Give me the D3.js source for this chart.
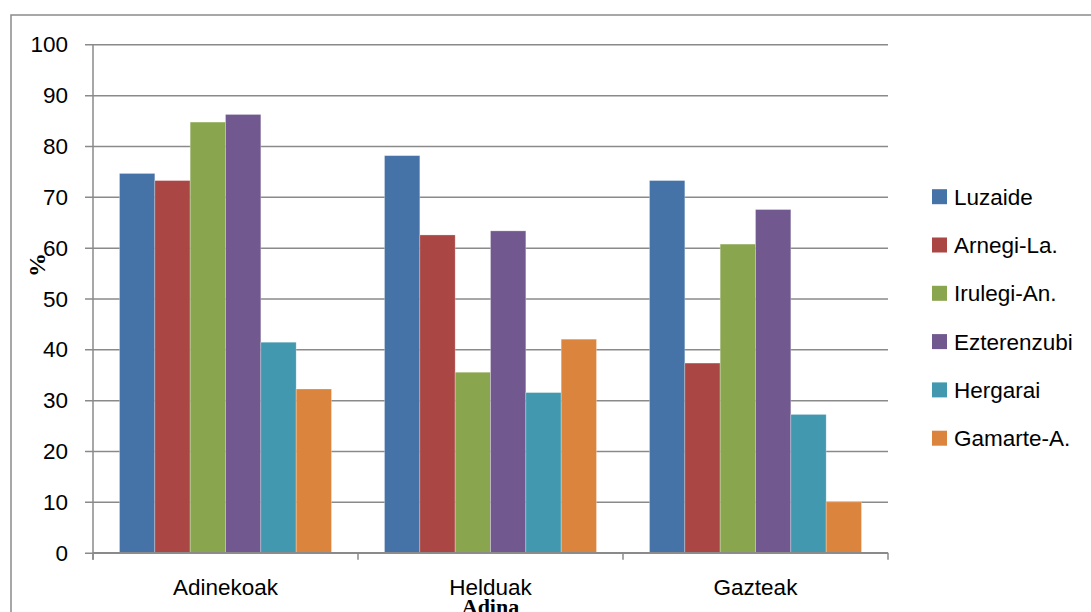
<!DOCTYPE html>
<html>
<head>
<meta charset="utf-8">
<script src="https://cdn.jsdelivr.net/npm/d3@7"></script>
<style>
  html, body { margin: 0; padding: 0; background: #fff; }
  svg { display: block; }
</style>
</head>
<body>
<svg id="chart" width="1091" height="612"></svg>
<script>
// Age groups along the x axis
const categories = ["Adinekoak", "Helduak", "Gazteak"];
// Localities (series)
const seriesNames = ["Luzaide", "Arnegi-La.", "Irulegi-An.", "Ezterenzubi", "Hergarai", "Gamarte-A."];
const seriesColors = ["#4572A7", "#AA4643", "#89A54E", "#71588F", "#4198AF", "#DB843D"];
// Percentages per series, one value per age group
const luzaide     = [74.6, 78.1, 73.2];
const arnegi      = [73.2, 62.5, 37.3];
const irulegi     = [84.7, 35.5, 60.7];
const ezterenzubi = [86.2, 63.3, 67.5];
const hergarai    = [41.4, 31.5, 27.2];
const gamarte     = [32.2, 42.0, 10.0];
const seriesValues = [luzaide, arnegi, irulegi, ezterenzubi, hergarai, gamarte];
const yTicks = [0, 10, 20, 30, 40, 50, 60, 70, 80, 90, 100];

const svg = d3.select("#chart");
const W = 1091, H = 612;
const plot = { left: 93, right: 888, top: 44.3, bottom: 552.7 };
const gridColor = "#8a8a8a";
const font = "'Liberation Sans', Arial, sans-serif";

// Outer chart frame (top and left edges visible)
svg.append("path")
  .attr("d", `M11,${H} L11,15 L${W},15`)
  .attr("fill", "none").attr("stroke", gridColor).attr("stroke-width", 1.5);

const y = d3.scaleLinear().domain([0, 100]).range([plot.bottom, plot.top]);
const x0 = d3.scaleBand().domain(categories).range([plot.left, plot.right]).paddingInner(0).paddingOuter(0);
// gap of 1.5 bar widths per group, split evenly on both sides
const groupPad = 0.75 / (6 + 1.5);
const x1 = d3.scaleBand().domain(d3.range(seriesNames.length))
  .range([0, x0.bandwidth()]).paddingInner(0).paddingOuter(0.75);

// Horizontal gridlines with outward ticks
const yAxis = d3.axisLeft(y).tickValues(yTicks).tickSize(-(plot.right - plot.left)).tickSizeOuter(0).tickFormat("");
const gy = svg.append("g").attr("transform", `translate(${plot.left},0)`).call(yAxis);
gy.select(".domain").remove();
gy.selectAll(".tick line").attr("stroke", gridColor).attr("stroke-width", 1.5).attr("x1", -8);

// Bars
const groups = svg.append("g").selectAll("g")
  .data(categories).join("g")
  .attr("transform", d => `translate(${x0(d)},0)`);
groups.selectAll("rect")
  .data((c, ci) => seriesValues.map((vals, si) => ({ si, v: vals[ci] })))
  .join("rect")
  .attr("x", d => x1(d.si))
  .attr("width", x1.bandwidth())
  .attr("y", d => y(d.v))
  .attr("height", d => y(0) - y(d.v))
  .attr("fill", d => seriesColors[d.si])
  .attr("stroke", "rgba(255,255,255,0.35)")
  .attr("stroke-width", 0.8);

// Y axis line
svg.append("line")
  .attr("x1", plot.left).attr("x2", plot.left)
  .attr("y1", plot.top).attr("y2", plot.bottom + 7)
  .attr("stroke", gridColor).attr("stroke-width", 1.5);

// X axis line and category boundary ticks
svg.append("line")
  .attr("x1", plot.left).attr("x2", plot.right)
  .attr("y1", plot.bottom).attr("y2", plot.bottom)
  .attr("stroke", gridColor).attr("stroke-width", 1.5);
const bounds = categories.map(c => x0(c)).concat([plot.right]);
svg.append("g").selectAll("line").data(bounds).join("line")
  .attr("x1", d => d).attr("x2", d => d)
  .attr("y1", plot.bottom).attr("y2", plot.bottom + 7)
  .attr("stroke", gridColor).attr("stroke-width", 1.5);

// Y tick labels
svg.append("g").selectAll("text").data(yTicks).join("text")
  .attr("x", 68).attr("y", d => y(d))
  .attr("dy", "0.36em")
  .attr("text-anchor", "end")
  .attr("font-family", font).attr("font-size", 22.5).attr("fill", "#000")
  .text(d => d);

// Category labels
svg.append("g").selectAll("text").data(categories).join("text")
  .attr("x", d => x0(d) + x0.bandwidth() / 2).attr("y", 595)
  .attr("text-anchor", "middle")
  .attr("font-family", font).attr("font-size", 22.5).attr("fill", "#000")
  .text(d => d);

// Axis titles
svg.append("text")
  .attr("transform", "translate(45,265) rotate(-90)")
  .attr("text-anchor", "middle")
  .attr("font-family", "'Liberation Serif', 'Times New Roman', serif")
  .attr("font-weight", "bold").attr("font-size", 24).attr("fill", "#000")
  .text("%");
svg.append("text")
  .attr("x", (plot.left + plot.right) / 2).attr("y", 614)
  .attr("text-anchor", "middle")
  .attr("font-family", "'Liberation Serif', 'Times New Roman', serif")
  .attr("font-weight", "bold").attr("font-size", 22).attr("fill", "#000")
  .text("Adina");

// Legend
const legend = svg.append("g").selectAll("g").data(seriesNames).join("g")
  .attr("transform", (d, i) => `translate(932,${196.7 + i * 48.3})`);
legend.append("rect")
  .attr("x", 0).attr("y", -7.5).attr("width", 15).attr("height", 15)
  .attr("fill", (d, i) => seriesColors[i]);
legend.append("text")
  .attr("x", 22).attr("y", 0).attr("dy", "0.36em")
  .attr("font-family", font).attr("font-size", 22.5).attr("fill", "#000")
  .text(d => d);
</script>
</body>
</html>
